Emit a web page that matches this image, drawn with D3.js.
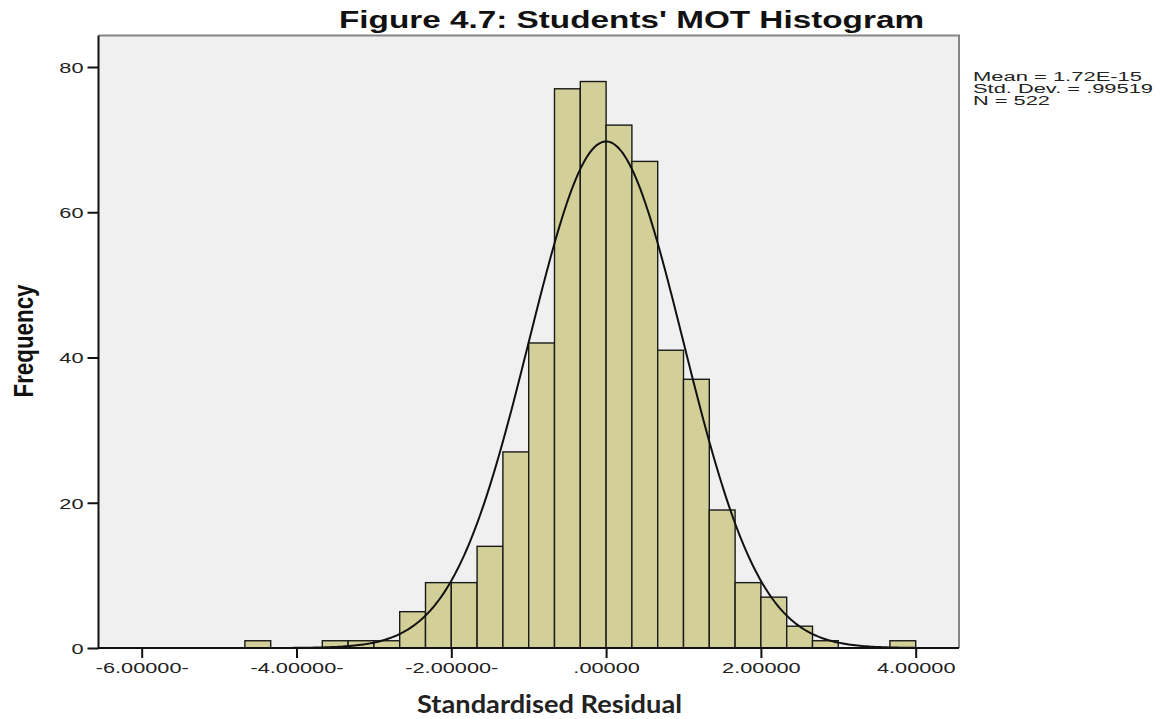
<!DOCTYPE html>
<html>
<head>
<meta charset="utf-8">
<script src="https://cdn.jsdelivr.net/npm/d3@7"></script>
<style>
  body { margin: 0; background: #fff; }
  svg { display: block; }
</style>
</head>
<body>
<svg class="chart" width="1170" height="719"></svg>
<script>
var binStarts = [-4.6667, -3.6667, -3.3333, -3.0, -2.6667, -2.3333, -2.0, -1.6667, -1.3333, -1.0, -0.6667, -0.3333,
                 0.0, 0.3333, 0.6667, 1.0, 1.3333, 1.6667, 2.0, 2.3333, 2.6667, 3.6667];
var counts = [1, 1, 1, 1, 5, 9, 9, 14, 27, 42, 77, 78,
              72, 67, 41, 37, 19, 9, 7, 3, 1, 1];
var binWidth = 1 / 3;

var xTicks = [-6, -4, -2, 0, 2, 4];
var xTickLabels = ["-6.00000-", "-4.00000-", "-2.00000-", ".00000", "2.00000", "4.00000"];
var yTicks = [0, 20, 40, 60, 80];

var statLabels = ["Mean = 1.72E-15", "Std. Dev. = .99519", "N = 522"];
var mean = 1.72e-15, sd = 0.99519, n = 522;

// Marco del panel
var panel = {left: 98.5, right: 959, top: 35.5, bottom: 648};
var stretch = 1.45; // el texto original esta estirado a lo ancho

var svg = d3.select(".chart");

var x = d3.scaleLinear().domain([-6, 4]).range([141.7, 915.7]);
var y = d3.scaleLinear().domain([0, 80]).range([648, 67]);

// fondo gris
svg.append("rect")
    .attr("x", panel.left)
    .attr("y", panel.top)
    .attr("width", panel.right - panel.left)
    .attr("height", panel.bottom - panel.top)
    .attr("fill", "#f0f0f0");

// barras
svg.selectAll("rect.bar")
    .data(binStarts)
  .enter().append("rect")
    .attr("class", "bar")
    .attr("x", function(d) { return x(d); })
    .attr("y", function(d, i) { return y(counts[i]); })
    .attr("width", function(d) { return x(d + binWidth) - x(d); })
    .attr("height", function(d, i) { return y(0) - y(counts[i]); })
    .attr("fill", "#d3cf98")
    .attr("stroke", "#1a1a1a")
    .attr("stroke-width", 1.4);

// curva normal con la media, desviacion y N del cuadro
var lo = binStarts[0], hi = binStarts[binStarts.length - 1] + binWidth;
var curvePts = d3.range(0, 301).map(function(k) {
  var v = lo + (hi - lo) * k / 300;
  var z = (v - mean) / sd;
  return [v, n * binWidth * Math.exp(-0.5 * z * z) / (sd * Math.sqrt(2 * Math.PI))];
});
svg.append("path")
    .datum(curvePts)
    .attr("fill", "none")
    .attr("stroke", "#111")
    .attr("stroke-width", 2)
    .attr("d", d3.line().x(function(d) { return x(d[0]); }).y(function(d) { return y(d[1]); }));

// borde superior y derecho
svg.append("path")
    .attr("d", "M" + panel.left + "," + panel.top + "H" + panel.right + "V" + panel.bottom)
    .attr("fill", "none")
    .attr("stroke", "#858585")
    .attr("stroke-width", 2);

// Eje x
var xAxis = d3.axisBottom(x)
    .tickValues(xTicks)
    .tickSize(10)
    .tickSizeOuter(0)
    .tickFormat(function(d, i) { return xTickLabels[i]; });
var gx = svg.append("g")
    .attr("transform", "translate(0," + panel.bottom + ")")
    .call(xAxis);
gx.select(".domain").remove();
gx.selectAll("line").attr("stroke", "#111").attr("stroke-width", 2);
gx.selectAll("text")
    .attr("y", 25.3)
    .attr("dy", 0)
    .attr("transform", "scale(" + stretch + ",1)")
    .style("font-family", "'Liberation Sans', Arial, sans-serif")
    .style("font-size", "15px")
    .attr("fill", "#222");

// Eje y
var yAxis = d3.axisLeft(y)
    .tickValues(yTicks)
    .tickSize(11)
    .tickSizeOuter(0);
var gy = svg.append("g")
    .attr("transform", "translate(" + panel.left + ",0)")
    .call(yAxis);
gy.select(".domain").remove();
gy.selectAll("line").attr("stroke", "#111").attr("stroke-width", 2);
gy.selectAll("text")
    .attr("x", -15 / stretch)
    .attr("dy", "0.36em")
    .attr("transform", "scale(" + stretch + ",1)")
    .style("font-family", "'Liberation Sans', Arial, sans-serif")
    .style("font-size", "15px")
    .attr("fill", "#222");

// lineas de los ejes
svg.append("path")
    .attr("d", "M" + panel.left + "," + panel.top + "V" + panel.bottom + "H" + panel.right)
    .attr("fill", "none")
    .attr("stroke", "#111")
    .attr("stroke-width", 2);

// titulo
svg.append("text")
    .attr("x", 339)
    .attr("y", 28)
    .attr("textLength", 585)
    .attr("lengthAdjust", "spacingAndGlyphs")
    .style("font-family", "'Liberation Sans', Arial, sans-serif")
    .style("font-weight", "bold")
    .style("font-size", "24px")
    .attr("fill", "#111")
    .text("Figure 4.7: Students' MOT Histogram");

// cuadro de estadisticos
var statWidths = [169, 180, 77];
svg.selectAll("text.stat")
    .data(statLabels)
  .enter().append("text")
    .attr("class", "stat")
    .attr("x", 973)
    .attr("y", function(d, i) { return 80.5 + i * 12.2; })
    .attr("textLength", function(d, i) { return statWidths[i]; })
    .attr("lengthAdjust", "spacingAndGlyphs")
    .style("font-family", "'Liberation Sans', Arial, sans-serif")
    .style("font-size", "12.5px")
    .attr("fill", "#222")
    .text(function(d) { return d; });

// titulos de ejes
svg.append("text")
    .attr("transform", "translate(33,341) rotate(-90)")
    .attr("text-anchor", "middle")
    .attr("textLength", 113)
    .attr("lengthAdjust", "spacingAndGlyphs")
    .style("font-family", "'Liberation Sans Narrow', 'Arial Narrow', 'Liberation Sans', sans-serif")
    .style("font-weight", "bold")
    .style("font-size", "27px")
    .attr("fill", "#111")
    .text("Frequency");

svg.append("text")
    .attr("x", 417)
    .attr("y", 713)
    .attr("textLength", 265)
    .attr("lengthAdjust", "spacingAndGlyphs")
    .style("font-family", "Lato, 'Open Sans', sans-serif")
    .style("font-weight", "bold")
    .style("font-size", "25px")
    .attr("fill", "#222")
    .text("Standardised Residual");
</script>
</body>
</html>
